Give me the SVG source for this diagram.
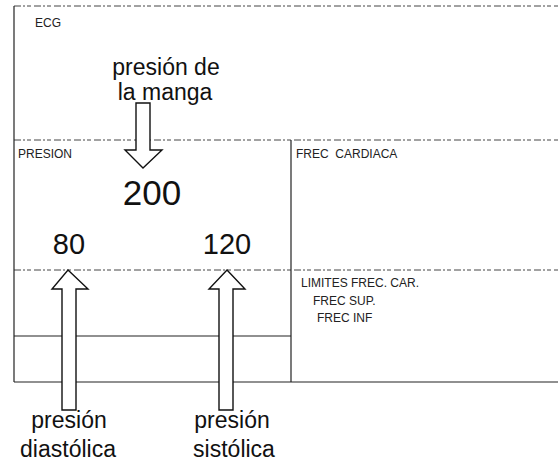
<svg xmlns="http://www.w3.org/2000/svg" width="558" height="466" viewBox="0 0 558 466">
<style>
.bg{fill:#fff}
.solid{stroke:#222;stroke-width:1.2;fill:none}
.dash{stroke:#444;stroke-width:1;fill:none;stroke-dasharray:7 2 2 2 4 3}
.small{font-family:"Liberation Sans",Arial,sans-serif;font-size:12px;fill:#222}
.big{font-family:"Liberation Sans",Arial,sans-serif;fill:#111}
.arrow{fill:#fff;stroke:#111;stroke-width:1.4;stroke-linejoin:miter}
</style>
<rect class="bg" x="0" y="0" width="558" height="466"/>
<g id="frame">
  <line class="dash" x1="14" y1="6" x2="558" y2="6"/>
  <line class="dash" x1="14" y1="140" x2="558" y2="140"/>
  <line class="dash" x1="14" y1="270" x2="558" y2="270"/>
  <line class="solid" x1="14" y1="336" x2="291" y2="336"/>
  <line class="solid" x1="14" y1="382" x2="558" y2="382"/>
  <line class="solid" x1="14" y1="6" x2="14" y2="382"/>
  <line class="solid" x1="291" y1="140" x2="291" y2="382"/>
</g>
<g id="panel-ecg">
  <text class="small" x="35" y="27" font-size="11">ECG</text>
</g>
<g id="panel-presion">
  <text class="small" x="18" y="158">PRESION</text>
  <text class="big" x="152" y="205" font-size="35" text-anchor="middle">200</text>
  <text class="big" x="69" y="254" font-size="29" text-anchor="middle">80</text>
  <text class="big" x="227" y="254" font-size="29" text-anchor="middle">120</text>
</g>
<g id="panel-frec">
  <text class="small" x="296" y="158">FREC&#160; CARDIACA</text>
</g>
<g id="panel-limites">
  <text class="small" x="301" y="287">LIMITES FREC. CAR.</text>
  <text class="small" x="313" y="305">FREC SUP.</text>
  <text class="small" x="317" y="322">FREC INF</text>
</g>
<g id="connectors">
  <polygon class="arrow" points="136,103 150,103 150,150 162,150 143,168 125,150 136,150"/>
  <polygon class="arrow" points="68,270 88,289 76,289 76,410 62,410 62,289 52,289"/>
  <polygon class="arrow" points="227,270 245,289 233,289 233,410 219,410 219,289 209,289"/>
</g>
<g id="label-manga">
  <text class="big" x="166" y="75" font-size="23" text-anchor="middle">presión de</text>
  <text class="big" x="165" y="100" font-size="23" text-anchor="middle">la manga</text>
</g>
<g id="label-diastolica">
  <text class="big" x="69" y="428" font-size="23" text-anchor="middle">presión</text>
  <text class="big" x="68" y="457" font-size="23" text-anchor="middle">diastólica</text>
</g>
<g id="label-sistolica">
  <text class="big" x="232" y="428" font-size="23" text-anchor="middle">presión</text>
  <text class="big" x="234" y="457" font-size="23" text-anchor="middle">sistólica</text>
</g>
</svg>
